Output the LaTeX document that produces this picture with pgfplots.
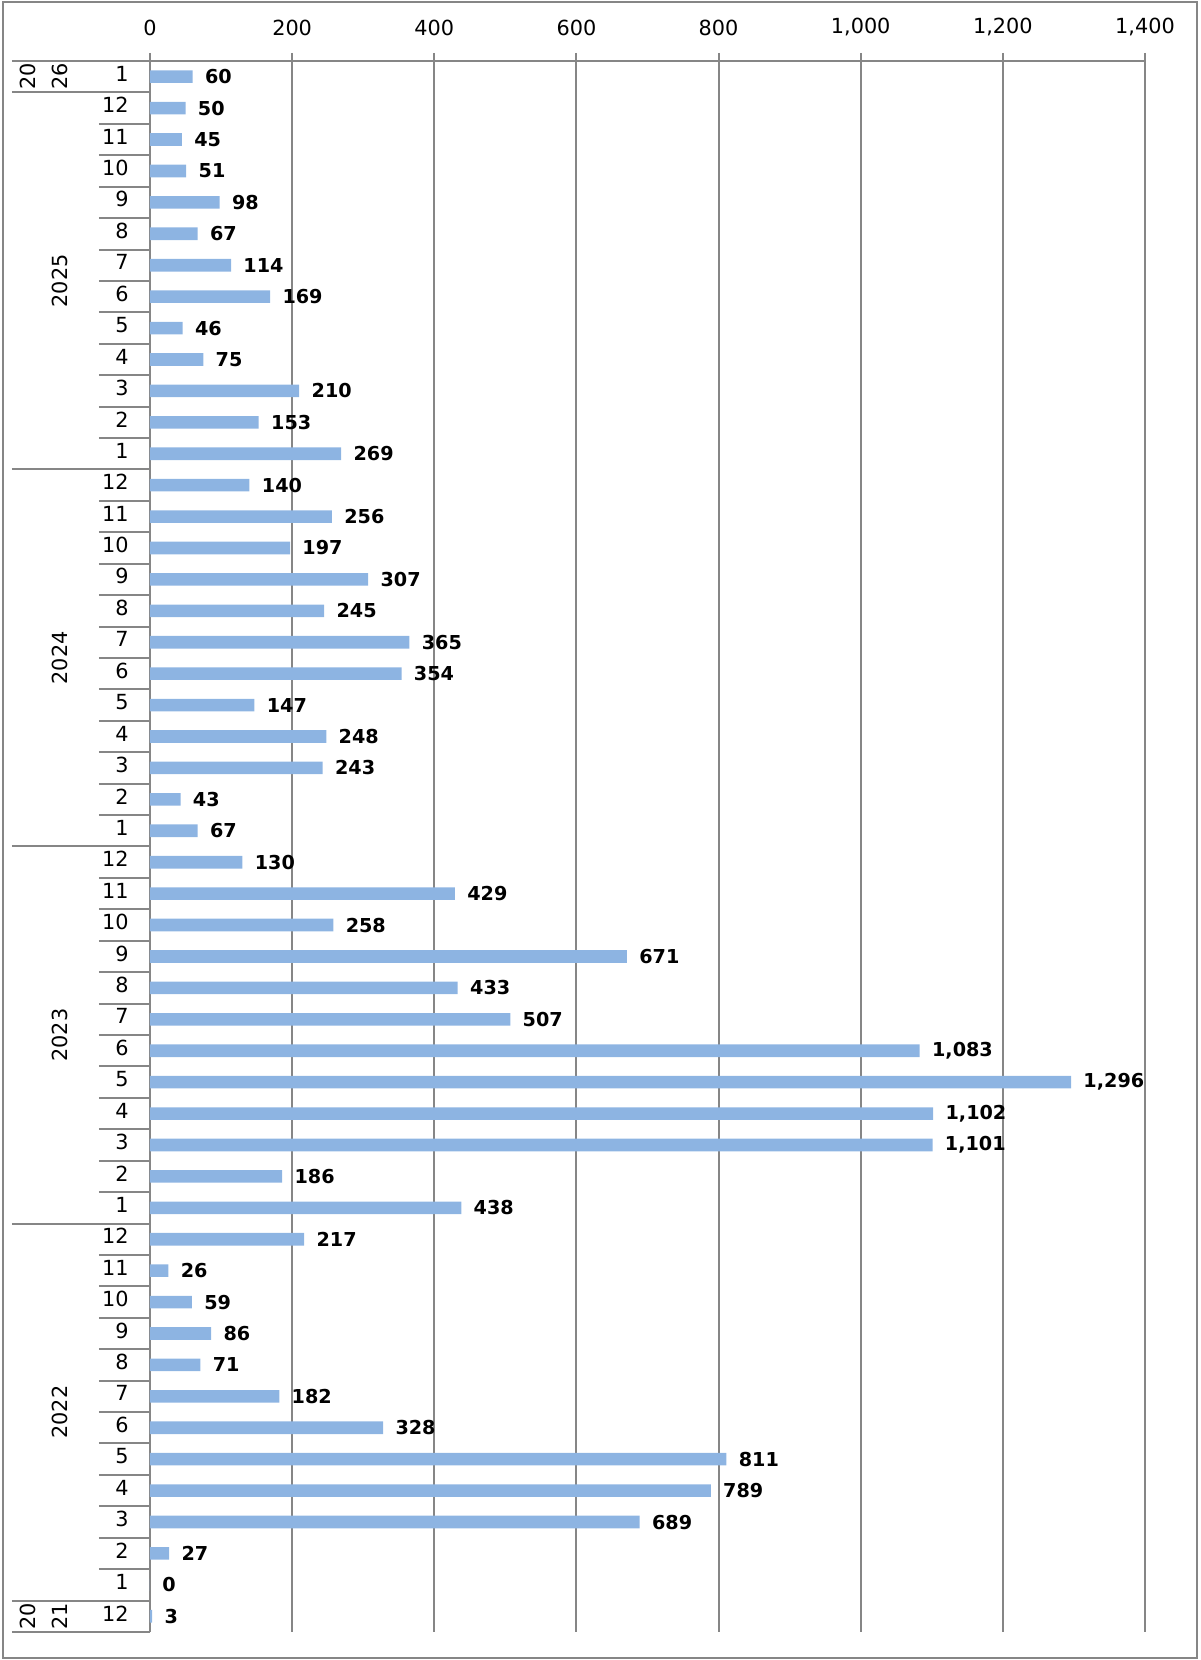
\documentclass[border=0pt]{standalone}
\usepackage{fontspec}
\setmainfont{DejaVu Sans}
\usepackage{pgfplots}
\pgfplotsset{compat=1.18}
\definecolor{barblue}{RGB}{141,180,226}
\definecolor{gridgray}{RGB}{134,134,134}

\begin{document}
\fontsize{10.4}{12}\selectfont
\begin{tikzpicture}
\begin{axis}[
    xbar, bar width=6.3pt,
    scale only axis, width=497.5pt, height=785.5pt,
    xmin=0, xmax=1400, ymin=-0.5, ymax=49.5,
    clip=false,
    xtick={0,200,...,1400},
    ytick={0,...,49},
    yticklabels={12,1,2,3,4,5,6,7,8,9,10,11,12,1,2,3,4,5,6,7,8,9,10,11,12,1,2,3,4,5,6,7,8,9,10,11,12,1,2,3,4,5,6,7,8,9,10,11,12,1},
    axis line style={draw=none},
    xtick pos=upper, xticklabel pos=upper,
    tick align=outside, major tick length=4pt,
    xtick style={gridgray, line width=1pt},
    ytick style={draw=none},
    xmajorgrids, grid style={gridgray, line width=1pt},
    scaled x ticks=false,
    /pgf/number format/1000 sep={,},
    /pgf/number format/assume math mode=true,
    xticklabel style={yshift=5pt},
    yticklabel style={anchor=east, inner sep=0pt, xshift=-6.5pt, yshift=1.5pt},
    point meta=x,
    nodes near coords,
    every node near coord/.style={anchor=west, inner sep=0pt, xshift=6pt, font=\fontsize{9.6}{11}\bfseries, black},
]
\addplot[fill=barblue, draw=none] coordinates {
    (3,0)
    (0,1) (27,2) (689,3) (789,4) (811,5) (328,6) (182,7) (71,8) (86,9) (59,10) (26,11) (217,12)
    (438,13) (186,14) (1101,15) (1102,16) (1296,17) (1083,18) (507,19) (433,20) (671,21) (258,22) (429,23) (130,24)
    (67,25) (43,26) (243,27) (248,28) (147,29) (354,30) (365,31) (245,32) (307,33) (197,34) (256,35) (140,36)
    (269,37) (153,38) (210,39) (75,40) (46,41) (169,42) (114,43) (67,44) (98,45) (51,46) (45,47) (50,48)
    (60,49)
};
% category axis separators
\pgfplotsinvokeforeach{0.5,1.5,...,48.5}{
    \draw[gridgray, line width=1pt] ([xshift=-25.5pt]axis cs:0,#1) -- (axis cs:0,#1);
}
\pgfplotsinvokeforeach{-0.5,0.5,12.5,24.5,36.5,48.5}{
    \draw[gridgray, line width=1pt] ([xshift=-69pt]axis cs:0,#1) -- (axis cs:0,#1);
}
\draw[gridgray, line width=1pt] ([xshift=-69pt]axis cs:0,49.5) -- (axis cs:1400,49.5);
% year labels
\node[rotate=90] at ([xshift=-45pt]axis cs:0,42.5) {2025};
\node[rotate=90] at ([xshift=-45pt]axis cs:0,30.5) {2024};
\node[rotate=90] at ([xshift=-45pt]axis cs:0,18.5) {2023};
\node[rotate=90] at ([xshift=-45pt]axis cs:0,6.5) {2022};
\node[rotate=90] at ([xshift=-61pt]axis cs:0,49) {20};
\node[rotate=90] at ([xshift=-45pt]axis cs:0,49) {26};
\node[rotate=90] at ([xshift=-61pt]axis cs:0,0) {20};
\node[rotate=90] at ([xshift=-45pt]axis cs:0,0) {21};
\coordinate (sw) at (rel axis cs:0,0);
\coordinate (ne) at (rel axis cs:1,1);
\end{axis}
\draw[gridgray, line width=1pt] ([shift={(-73.5pt,-13pt)}]sw) rectangle ([shift={(26pt,29.5pt)}]ne);
\pgfresetboundingbox
\path ([shift={(-75pt,-14pt)}]sw) rectangle ([shift={(27.5pt,30.5pt)}]ne);
\end{tikzpicture}
\end{document}
